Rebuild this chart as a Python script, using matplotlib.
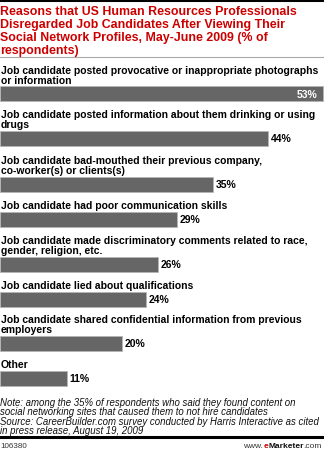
import matplotlib
matplotlib.use("Agg")
import matplotlib.pyplot as plt
from matplotlib.lines import Line2D

W, H = 324, 452

title = ("Reasons that US Human Resources Professionals\n"
         "Disregarded Job Candidates After Viewing Their\n"
         "Social Network Profiles, May-June 2009 (% of\n"
         "respondents)")

labels = [
    "Job candidate posted provocative or inappropriate photographs\nor information",
    "Job candidate posted information about them drinking or using\ndrugs",
    "Job candidate bad-mouthed their previous company,\nco-worker(s) or clients(s)",
    "Job candidate had poor communication skills",
    "Job candidate made discriminatory comments related to race,\ngender, religion, etc.",
    "Job candidate lied about qualifications",
    "Job candidate shared confidential information from previous\nemployers",
    "Other",
]
values = [53, 44, 35, 29, 26, 24, 20, 11]

note = ("Note: among the 35% of respondents who said they found content on\n"
        "social networking sites that caused them to not hire candidates\n"
        "Source: CareerBuilder.com survey conducted by Harris Interactive as cited\n"
        "in press release, August 19, 2009")
chart_id = "106380"

RED = "#cc0000"
BAR = "#666666"
FONT = "Liberation Sans"

# bar tops in pixels (layout)
bar_tops = [87, 132, 178, 213, 258, 293, 337, 372]
bar_h = 15

fig = plt.figure(figsize=(W / 100, H / 100), dpi=100)
fig.patch.set_facecolor("white")


def fx(x):
    return x / W


def fy(y):
    return 1 - y / H


# frame lines
fig.add_artist(Line2D([0, 1], [fy(1), fy(1)], color="black", lw=2.2))
fig.add_artist(Line2D([0, 1], [fy(58), fy(58)], color="#aaaaaa", lw=0.8))
fig.add_artist(Line2D([0, 1], [fy(438), fy(438)], color="black", lw=2.2))

# title
for i, line in enumerate(title.split("\n")):
    fig.text(fx(0), fy(15 + 13 * i), line, color=RED, fontsize=8.9,
             fontweight="bold", family=FONT, va="baseline", ha="left")

ax = fig.add_axes([0, 0, 1, 1])
ax.set_xlim(0, 53.2)
ax.set_ylim(H, 0)
ax.axis("off")

centers = [t + bar_h / 2 for t in bar_tops]
ax.barh(centers, values, height=bar_h, color=BAR, edgecolor="#b5b5b5",
        linewidth=0.6)

for lab, v, t, c in zip(labels, values, bar_tops, centers):
    lines = lab.split("\n")
    n = len(lines)
    for i, line in enumerate(lines):
        ax.text(0.1, t - 3.5 - 10 * (n - 1 - i), line, fontsize=7.45,
                fontweight="bold", family=FONT, va="baseline", ha="left")
    if v == max(values):
        ax.annotate(f"{v}%", (v, c), xytext=(-4, 0), textcoords="offset points",
                    ha="right", va="center", color="white", fontsize=7.5,
                    fontweight="bold", family=FONT)
    else:
        ax.annotate(f"{v}%", (v, c), xytext=(2, 0), textcoords="offset points",
                    ha="left", va="center", color="black", fontsize=7.5,
                    fontweight="bold", family=FONT)

# note
for i, line in enumerate(note.split("\n")):
    fig.text(fx(0), fy(406 + 9.3 * i), line, fontsize=6.95, style="italic",
             family=FONT, color="#111111", va="baseline", ha="left")

# footer
fig.text(fx(0), fy(448), chart_id, fontsize=5.8, family=FONT, color="#333333",
         va="baseline", ha="left")
t3 = fig.text(fx(322), fy(448), ".com", fontsize=6, family=FONT,
              color="#333333", va="baseline", ha="right")
fig.canvas.draw()
r = fig.canvas.get_renderer()
x_right = t3.get_window_extent(r).x0
t2 = fig.text(x_right / W, fy(448), "Marketer", fontsize=6, family=FONT,
              fontweight="bold", color="#111111", va="baseline", ha="right")
x_right = t2.get_window_extent(r).x0
t1 = fig.text(x_right / W, fy(448), "e", fontsize=6, family=FONT,
              fontweight="bold", color=RED, va="baseline", ha="right")
x_right = t1.get_window_extent(r).x0
fig.text(x_right / W, fy(448), "www.", fontsize=6, family=FONT,
         color="#333333", va="baseline", ha="right")

fig.savefig("out.png", dpi=100, facecolor="white")
